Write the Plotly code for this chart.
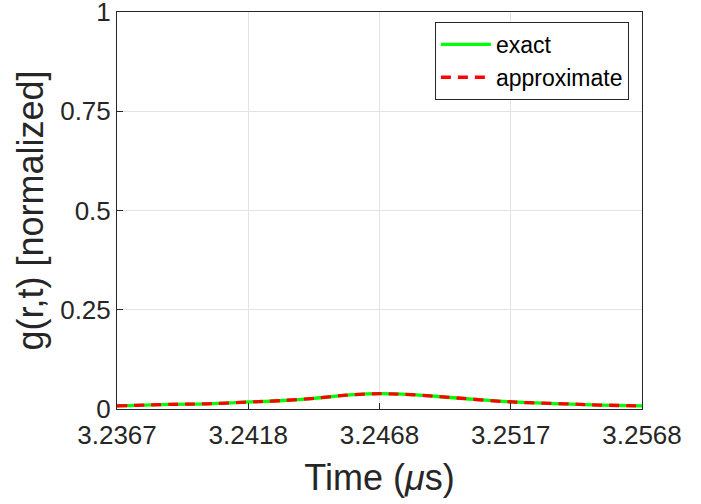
import numpy as np
import plotly.graph_objects as go

# Data
time_us = [3.23670, 3.23878, 3.24015, 3.24177, 3.24289, 3.24425, 3.24562, 3.24678,
           3.24794, 3.24972, 3.25182, 3.25383, 3.25519, 3.25680]
g_exact = [0.0077, 0.0116, 0.0131, 0.0177, 0.0208, 0.0270, 0.0354, 0.0385,
           0.0362, 0.0277, 0.0177, 0.0131, 0.0100, 0.0077]
g_approx = list(g_exact)

x_min, x_max = 3.2367, 3.2568
x_tickvals = list(np.linspace(x_min, x_max, 5))
x_ticktext = ["3.2367", "3.2418", "3.2468", "3.2517", "3.2568"]
y_tickvals = [0, 0.25, 0.5, 0.75, 1]
y_ticktext = ["0", "0.25", "0.5", "0.75", "1"]

fig = go.Figure()
fig.add_trace(go.Scatter(x=time_us, y=g_exact, mode="lines", name="exact",
                         line=dict(color="#00ff00", width=3.3, shape="spline")))
fig.add_trace(go.Scatter(x=time_us, y=g_approx, mode="lines", name="approximate",
                         line=dict(color="#ff0000", width=3.3, dash="10px,7px", shape="spline")))

axis_common = dict(showline=True, linecolor="#262626", linewidth=1, mirror=True,
                   ticks="inside", ticklen=6, tickcolor="#262626",
                   showgrid=True, gridcolor="#e3e3e3", gridwidth=1, zeroline=False,
                   automargin=False, ticklabeloverflow="allow",
                   tickfont=dict(size=26, color="#262626"))

fig.update_layout(
    width=701, height=504,
    margin=dict(l=117, r=59, t=12, b=95),
    paper_bgcolor="white", plot_bgcolor="white",
    font=dict(family="Liberation Sans, Arial, sans-serif", color="#262626"),
    xaxis=dict(range=[x_min, x_max], tickvals=x_tickvals, ticktext=x_ticktext,
               ticklabelstandoff=3,
               title=dict(text="Time (<i>μ</i>s)", font=dict(size=36), standoff=15),
               **axis_common),
    yaxis=dict(range=[0, 1], tickvals=y_tickvals, ticktext=y_ticktext,
               title=dict(text="g(r,t) [normalized]", font=dict(size=36), standoff=5),
               **axis_common),
    legend=dict(x=0.975, y=0.975, xanchor="right", yanchor="top",
                bgcolor="white", bordercolor="#262626", borderwidth=1,
                font=dict(size=23, color="black"), tracegroupgap=0,
                itemwidth=50),
    showlegend=True,
)

fig.write_html("out.html", config={"displayModeBar": False},
               post_script="document.body.style.margin='0px';")
